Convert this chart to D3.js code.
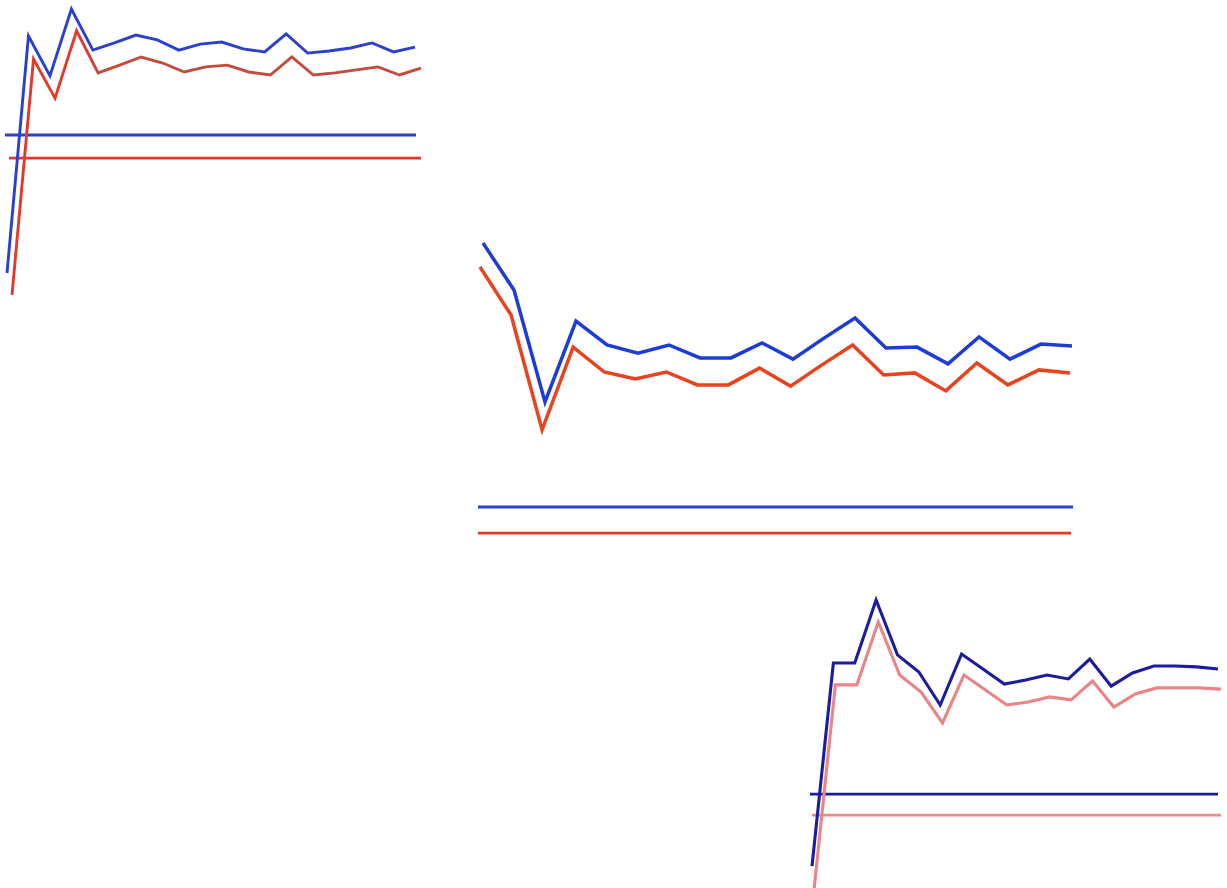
<!DOCTYPE html>
<html><head><meta charset="utf-8">
<script src="https://cdn.jsdelivr.net/npm/d3@7"></script>
<style>html,body{margin:0;padding:0;background:#fff;}svg{display:block;}</style>
</head><body>
<svg id="chart" width="1227" height="888"></svg>
<script>
// ---- data (arbitrary units 0..100) ----
const steps = d3.range(20);
const blue1 = [9, 88, 74.7, 97, 83.3, 85.7, 88.3, 86.7, 83.3, 85.3, 86, 83.7, 82.7, 88.7, 82.3, 83, 84, 85.7, 82.7, 84.3];
const red1  = [1.7, 80.3, 67.3, 89.7, 75.7, 78.3, 81, 79, 76, 77.7, 78.3, 76, 75, 81, 75, 75.7, 76.7, 77.7, 75, 77.3];
const ref1  = [55, 47.3];
const blue2 = [99, 83.3, 46, 73, 65, 62.3, 65, 60.7, 60.7, 65.7, 60.3, 67.3, 74, 64, 64.3, 58.7, 67.7, 60.3, 65.3, 64.7];
const red2  = [91, 75, 36.7, 64.3, 56, 53.7, 56, 51.7, 51.7, 57.3, 51.3, 58.3, 65, 55, 55.7, 49.7, 59, 51.7, 56.7, 55.7];
const ref2  = [11, 2.3];
const blue3 = [7.3, 75, 75, 96, 77.7, 72, 61, 78, 73, 68, 69.3, 71, 69.7, 76.3, 67.3, 71.7, 74, 74, 73.7, 73];
const red3  = [-0.7, 67.7, 67.7, 88.7, 71, 65.3, 55, 71, 66, 61, 62, 63.7, 62.7, 69, 60.3, 64.7, 66.7, 66.7, 66.7, 66.3];
const ref3  = [31.3, 24.3];

// ---- layout ----
const panels = [
  {blue: blue1, red: red1, ref: ref1, yr: [300, 0],
   bx: [7, 415], rx: [12, 421], bh: [5, 416], rh: [9, 421],
   bc: "#2a40cf", rc: "url(#redfade)", rhc: "#e2392b", bhc: "#2a40cf", w: 2.9},
  {blue: blue2, red: red2, ref: ref2, yr: [540, 240],
   bx: [483, 1072], rx: [480, 1070], bh: [478, 1073], rh: [478, 1071],
   bc: "#1f3bd6", rc: "#e8421f", rhc: "#e03a2e", bhc: "#2a3ed8", w: 3.5},
  {blue: blue3, red: red3, ref: ref3, yr: [888, 588],
   bx: [812, 1218], rx: [814, 1221], bh: [810, 1218], rh: [812, 1221],
   bc: "#1c1ca0", rc: "#ea8585", rhc: "#ea8c8c", bhc: "#1c1c94", w: 3.1}
];

const svg = d3.select("#chart");
const defs = svg.append("defs");
const grad = defs.append("linearGradient").attr("id", "redfade")
  .attr("gradientUnits", "userSpaceOnUse").attr("x1", 80).attr("x2", 100).attr("y1", 0).attr("y2", 0);
grad.append("stop").attr("offset", 0).attr("stop-color", "#e4392a");
grad.append("stop").attr("offset", 1).attr("stop-color", "#c44a3c");

panels.forEach(p => {
  const y = d3.scaleLinear().domain([0, 100]).range(p.yr);
  const xb = d3.scaleLinear().domain([0, steps.length - 1]).range(p.bx);
  const xr = d3.scaleLinear().domain([0, steps.length - 1]).range(p.rx);
  const g = svg.append("g");
  const hb = d3.scaleLinear().domain([0, 1]).range(p.bh);
  const hr = d3.scaleLinear().domain([0, 1]).range(p.rh);
  const hline = d3.line().x(d => d[0]).y(d => d[1]);

  // reference lines
  g.append("path").attr("d", hline([[hb(0), y(p.ref[0])], [hb(1), y(p.ref[0])]]))
    .attr("stroke", p.bhc).attr("stroke-width", 2.9).attr("fill", "none");
  g.append("path").attr("d", hline([[hr(0), y(p.ref[1])], [hr(1), y(p.ref[1])]]))
    .attr("stroke", p.rhc).attr("stroke-width", 2.9).attr("fill", "none");

  // red series
  g.append("path").datum(p.red)
    .attr("d", d3.line().x((d, i) => xr(i)).y(d => y(d)))
    .attr("stroke", p.rc).attr("stroke-width", p.w).attr("fill", "none")
    .attr("stroke-linejoin", "miter");
  // blue series
  g.append("path").datum(p.blue)
    .attr("d", d3.line().x((d, i) => xb(i)).y(d => y(d)))
    .attr("stroke", p.bc).attr("stroke-width", p.w).attr("fill", "none")
    .attr("stroke-linejoin", "miter");
});
</script>
</body></html>
